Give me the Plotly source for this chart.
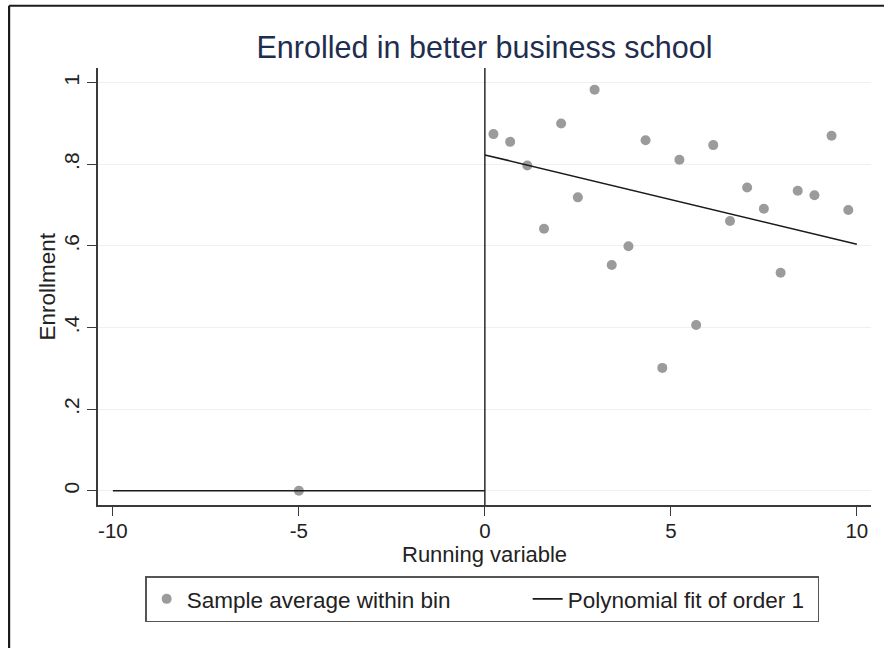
import plotly.graph_objects as go

# Binned sample means of enrollment by running variable
bin_x = [-5.0, 0.23, 0.68, 1.14, 1.59, 2.05, 2.50, 2.95, 3.41, 3.86, 4.32, 4.77,
         5.23, 5.68, 6.14, 6.59, 7.05, 7.50, 7.95, 8.41, 8.86, 9.32, 9.77]
bin_y = [0.0, 0.874, 0.855, 0.797, 0.642, 0.900, 0.719, 0.983, 0.553, 0.599, 0.859, 0.301,
         0.811, 0.406, 0.847, 0.661, 0.743, 0.691, 0.534, 0.735, 0.724, 0.870, 0.688]

# Linear fits on each side of the cutoff
fit_left_x = [-10, 0]
fit_left_y = [0.0, 0.0]
fit_right_x = [0, 10]
fit_right_y = [0.823, 0.604]

cutoff = 0
y_ticks = [0, 0.2, 0.4, 0.6, 0.8, 1]
y_tick_text = ["0", ".2", ".4", ".6", ".8", "1"]
x_ticks = [-10, -5, 0, 5, 10]
x_tick_text = ["-10", "-5", "0", "5", "10"]

FONT = "Arial, Liberation Sans, sans-serif"
AXIS_COLOR = "#3a3a3a"
TEXT_COLOR = "#222222"

fig = go.Figure()

fig.add_trace(go.Scatter(
    x=bin_x, y=bin_y, mode="markers",
    marker=dict(color="#9b9b9b", size=10, line=dict(width=0)),
    name="Sample average within bin",
))
fig.add_trace(go.Scatter(
    x=fit_left_x, y=fit_left_y, mode="lines",
    line=dict(color="#1a1a1a", width=1.6),
    showlegend=False,
))
fig.add_trace(go.Scatter(
    x=fit_right_x, y=fit_right_y, mode="lines",
    line=dict(color="#1a1a1a", width=1.6),
    name="Polynomial fit of order 1",
    legendwidth=245,
))

# Vertical cutoff line
fig.add_shape(type="line", xref="x", yref="paper",
              x0=cutoff, x1=cutoff, y0=0, y1=1,
              line=dict(color="#1a1a1a", width=1.4))

# Outer frame (top and left edges)
fig.add_shape(type="line", xref="paper", yref="paper",
              x0=-0.115, x1=1.05, y0=1.1425, y1=1.1425,
              line=dict(color="#1c1c1c", width=2.2))
fig.add_shape(type="line", xref="paper", yref="paper",
              x0=-0.115, x1=-0.115, y0=-0.36, y1=1.1425,
              line=dict(color="#1c1c1c", width=2.2))

# Axis titles
fig.add_annotation(text="Running variable", xref="paper", yref="paper",
                   x=0.5, y=-0.1135, xanchor="center", yanchor="middle",
                   showarrow=False, font=dict(size=22, color=TEXT_COLOR, family=FONT))
fig.add_annotation(text="Enrollment", xref="paper", yref="paper",
                   x=-0.0647, y=0.5, xanchor="center", yanchor="middle",
                   textangle=-90,
                   showarrow=False, font=dict(size=22.5, color=TEXT_COLOR, family=FONT))

fig.update_layout(
    width=884, height=648,
    margin=dict(l=98, r=13, t=68, b=143),
    paper_bgcolor="white", plot_bgcolor="white",
    font=dict(family=FONT, color=TEXT_COLOR),
    title=dict(text="Enrolled in better business school",
               x=0.5, xref="paper", xanchor="center",
               y=1 - 47 / 648, yanchor="middle",
               font=dict(size=30.5, color="#1f2d4e", family=FONT)),
    xaxis=dict(
        range=[-10.4, 10.38], tickvals=x_ticks, ticktext=x_tick_text,
        showgrid=False, zeroline=False,
        showline=True, linecolor=AXIS_COLOR, linewidth=1.5,
        ticks="outside", ticklen=9, tickcolor=AXIS_COLOR, tickwidth=1.3,
        tickfont=dict(size=20.5, color=TEXT_COLOR),
        ticklabelstandoff=-2,
    ),
    yaxis=dict(
        range=[-0.035, 1.036], tickvals=y_ticks, ticktext=y_tick_text,
        tickangle=-90,
        showgrid=True, gridcolor="#eaf2f3", gridwidth=1.2,
        zeroline=False,
        showline=True, linecolor=AXIS_COLOR, linewidth=1.5,
        ticks="outside", ticklen=9, tickcolor=AXIS_COLOR, tickwidth=1.3,
        tickfont=dict(size=21, color=TEXT_COLOR),
    ),
    legend=dict(
        orientation="h", x=0.061, xanchor="left", y=-0.163, yanchor="top",
        bordercolor="#555555", borderwidth=1.5, bgcolor="white",
        font=dict(size=22.5, color=TEXT_COLOR),
        entrywidth=336, entrywidthmode="pixels",
    ),
)

fig.write_html("out.html")
